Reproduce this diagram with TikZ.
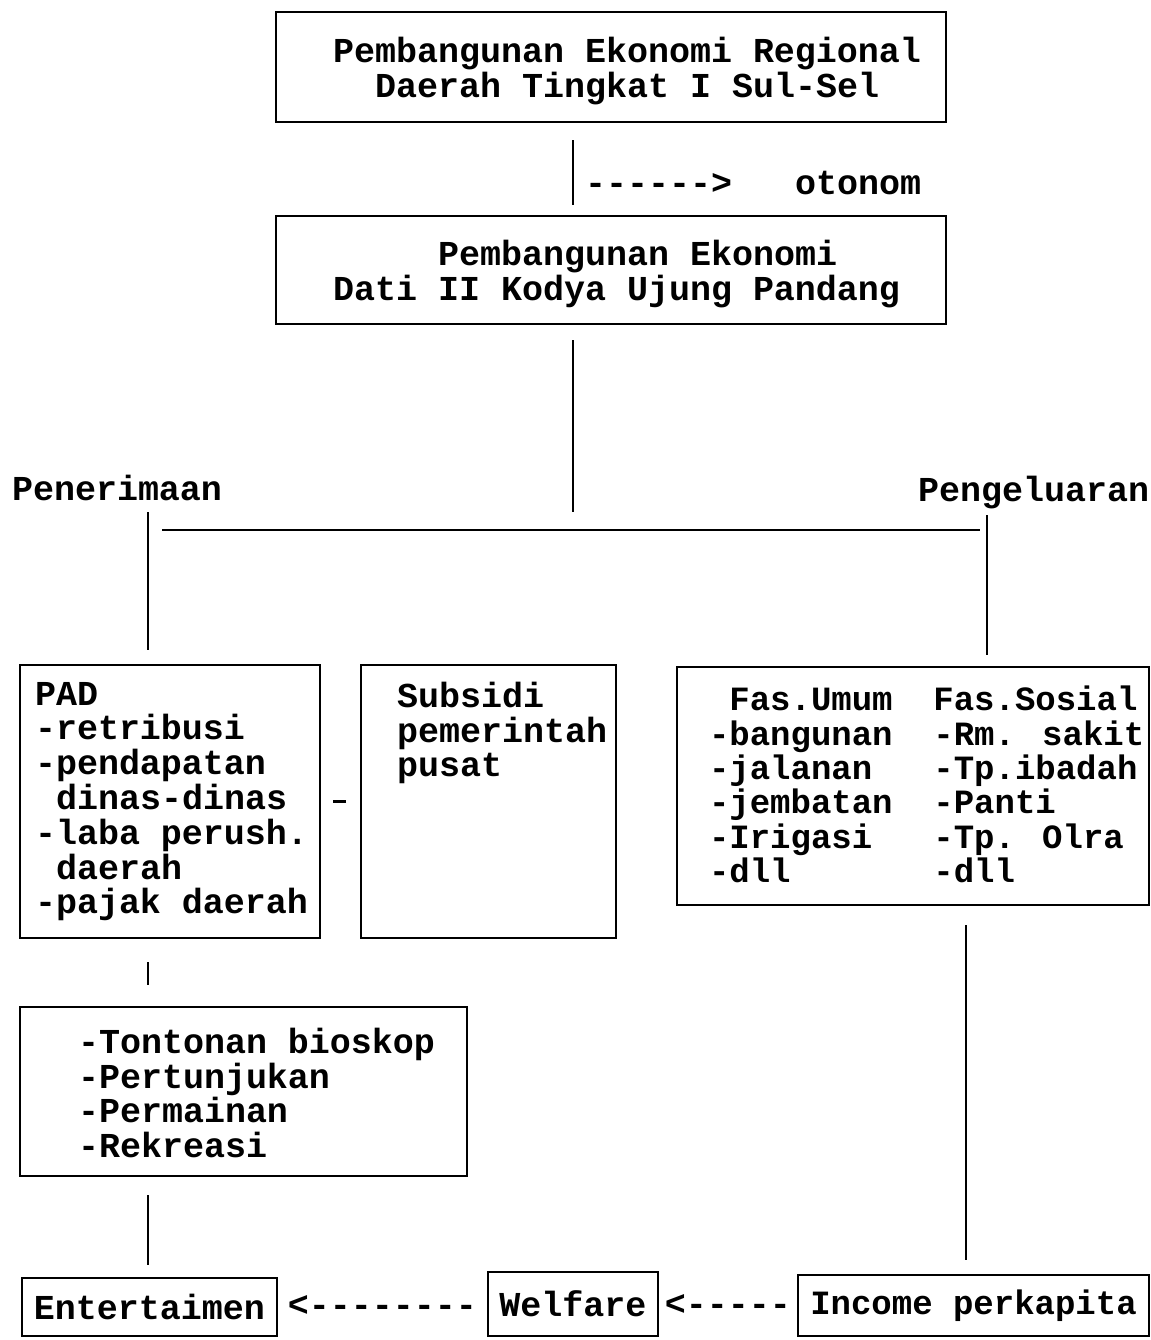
\documentclass[tikz,border=0pt]{standalone}
\usepackage{fontspec}
\newfontfamily\tw{Liberation Mono}
\begin{document}
\begin{tikzpicture}[x=0.5pt,y=-0.5pt,
  box/.style={draw, line width=1.1pt, inner sep=0pt, outer sep=0pt},
  txt/.style={font=\tw\bfseries\fontsize{17.5}{17.4}\selectfont, inner sep=0pt, outer sep=0pt, align=left},
  smalltxt/.style={txt, font=\tw\bfseries\fontsize{17}{17.2}\selectfont},
  conn/.style={line width=1pt},
  bar/.style={line width=1.4pt}]
\fill[white] (0,0) rectangle (1151,1340);
\useasboundingbox (0,0) rectangle (1151,1340);

% boxes
\node[box, minimum width=335pt, minimum height=55pt] (t1) at (611,67) {};
\node[box, minimum width=335pt, minimum height=54pt] (t2) at (611,270) {};
\node[box, minimum width=150pt, minimum height=136.5pt] (pad) at (170,801.5) {};
\node[box, minimum width=127.5pt, minimum height=136.5pt] (sub) at (488.5,801.5) {};
\node[box, minimum width=236pt, minimum height=119pt] (fas) at (913,786) {};
\node[box, minimum width=223.5pt, minimum height=84.5pt] (ton) at (243.5,1091.5) {};
\node[box, txt, minimum width=127.5pt, minimum height=29pt] (ent) at (149.5,1307) {Entertaimen};
\node[box, txt, minimum width=85pt, minimum height=32pt] (wel) at (573,1304) {Welfare};
\node[box, smalltxt, minimum width=175.5pt, minimum height=30.5pt] (inc) at (973.5,1305.5) {Income perkapita};

% box texts
\node[txt, anchor=north west] (t1t) at (333,37) {Pembangunan Ekonomi Regional\\~~Daerah Tingkat I Sul-Sel};
\node[txt, anchor=north west] (t2t) at (333,240) {~~~~~Pembangunan Ekonomi\\Dati II Kodya Ujung Pandang};
\node[txt, anchor=north west] (padt) at (35,682) {PAD\\-retribusi\\-pendapatan\\~dinas-dinas\\-laba perush.\\~daerah\\-pajak daerah};
\node[txt, anchor=north west] (subt) at (397,682) {Subsidi\\pemerintah\\pusat};
\node[smalltxt, anchor=north west] (fast) at (709,686) {~Fas.Umum~~Fas.Sosial\\-bangunan~~-Rm. sakit\\-jalanan~~~-Tp.ibadah\\-jembatan~~-Panti\\-Irigasi~~~-Tp. Olra\\-dll~~~~~~~-dll};
\node[txt, anchor=north west] (tont) at (78,1028) {-Tontonan bioskop\\-Pertunjukan\\-Permainan\\-Rekreasi};

% labels
\node[txt, anchor=base west] (oto) at (585,194) {------>~~~otonom};
\node[txt, anchor=base west] (pen) at (12,500) {Penerimaan};
\node[txt, anchor=base west] (peng) at (918,501) {Pengeluaran};

% coordinates
\coordinate (hub) at (573,512);
\coordinate (jl) at (162,530);
\coordinate (jr) at (980,530);
\coordinate (lt) at (148,512);
\coordinate (rt) at (987,515);

% connectors
\draw[conn] ([shift={(-38,18)}]t1.south) -- ([shift={(-38,-11)}]t2.north);
\draw[conn] ([shift={(-38,16)}]t2.south) -- (hub);
\draw[bar] (jl) -- (jr);
\draw[conn] (lt) -- ([shift={(-22,-15)}]pad.north);
\draw[conn] (rt) -- ([shift={(74,-12)}]fas.north);
\draw[line width=1.6pt] ([xshift=13]pad.east) -- ([xshift=-14]sub.west);
\draw[conn] ([shift={(-22,24)}]pad.south) -- ([shift={(-95.5,-22)}]ton.north);
\draw[conn] ([shift={(-95.5,19)}]ton.south) -- ([shift={(-1.5,-13)}]ent.north);
\draw[conn] ([shift={(53,20)}]fas.south) -- ([shift={(-7.5,-15)}]inc.north);
\path (wel.west) -- node[txt] (a1) {<--------} (ent.east);
\path (inc.west) -- node[txt] (a2) {<-----} (wel.east);
\end{tikzpicture}
\end{document}
